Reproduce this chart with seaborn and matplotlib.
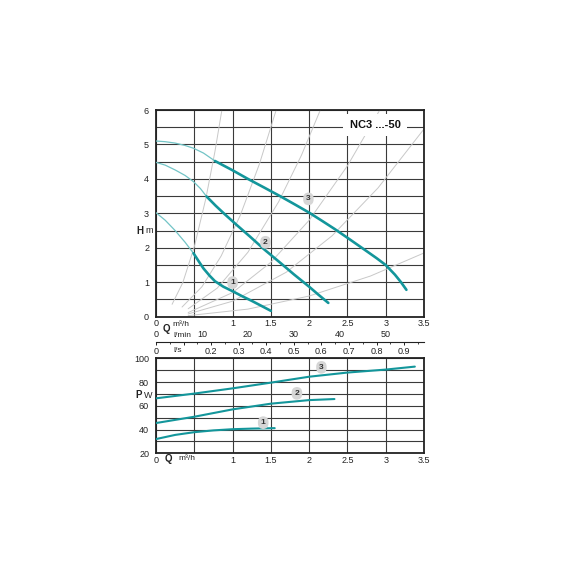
import matplotlib
matplotlib.use("Agg")
import matplotlib.pyplot as plt
from matplotlib.ticker import MultipleLocator
import seaborn as sns

# ---- pump head curves, Q in m3/h, H in m (thin = low flow part, thick = working range)
c1_thin_q = [0.0, 0.12, 0.25, 0.38, 0.49]
c1_thin_h = [3.02, 2.80, 2.50, 2.16, 1.84]
c1_q = [0.49, 0.56, 0.62, 0.70, 0.77, 0.88, 1.0, 1.12, 1.25, 1.38, 1.5]
c1_h = [1.84, 1.60, 1.40, 1.19, 1.03, 0.87, 0.74, 0.60, 0.46, 0.31, 0.17]

c2_thin_q = [0.0, 0.12, 0.25, 0.38, 0.49, 0.58, 0.66]
c2_thin_h = [4.48, 4.40, 4.26, 4.10, 3.92, 3.72, 3.49]
c2_q = [0.66, 0.78, 0.90, 1.05, 1.23, 1.42, 1.62, 1.80, 2.0, 2.12, 2.25]
c2_h = [3.49, 3.22, 2.97, 2.67, 2.32, 1.94, 1.57, 1.23, 0.87, 0.64, 0.40]

c3_thin_q = [0.0, 0.12, 0.25, 0.38, 0.49, 0.62, 0.77]
c3_thin_h = [5.10, 5.08, 5.04, 4.97, 4.89, 4.75, 4.52]
c3_q = [0.77, 1.0, 1.2, 1.42, 1.62, 1.82, 2.0, 2.17, 2.33, 2.52, 2.72, 2.88, 3.0, 3.12, 3.2, 3.27]
c3_h = [4.52, 4.25, 4.00, 3.74, 3.50, 3.25, 3.02, 2.78, 2.55, 2.26, 1.95, 1.70, 1.50, 1.22, 1.00, 0.78]

# ---- grey system curves (Q, H)
sys_q = [
    [0.21, 0.35, 0.50, 0.65, 0.77, 0.87],
    [0.34, 0.60, 0.85, 1.10, 1.35, 1.60],
    [0.42, 0.80, 1.20, 1.60, 1.90, 2.20],
    [0.42, 1.00, 1.50, 2.00, 2.50, 3.00],
    [0.42, 1.00, 1.70, 2.30, 2.90, 3.50],
    [0.42, 1.20, 2.00, 2.80, 3.50],
]
sys_h = [
    [0.36, 0.99, 2.03, 3.42, 4.80, 6.13],
    [0.28, 0.87, 1.76, 2.94, 4.43, 6.22],
    [0.23, 0.83, 1.87, 3.33, 4.69, 6.29],
    [0.12, 0.70, 1.58, 2.80, 4.38, 6.30],
    [0.08, 0.45, 1.29, 2.35, 3.74, 5.45],
    [0.03, 0.22, 0.60, 1.18, 1.85],
]

# ---- power curves, P in W
p1_q = [0.0, 0.25, 0.5, 0.75, 1.0, 1.25, 1.55]
p1_p = [32.0, 35.5, 37.8, 39.3, 40.3, 40.8, 41.2]
p2_q = [0.0, 0.5, 1.0, 1.5, 2.0, 2.33]
p2_p = [45.5, 50.8, 57.0, 61.8, 64.8, 65.7]
p3_q = [0.0, 0.5, 1.0, 1.5, 2.0, 2.5, 3.0, 3.38]
p3_p = [66.3, 70.3, 74.7, 79.5, 84.5, 88.0, 90.5, 93.0]

# curve number tags (Q, value)
h_tags = {"1": (1.0, 0.99), "2": (1.43, 2.16), "3": (1.99, 3.42)}
p_tags = {"1": (1.40, 45.8), "2": (1.84, 70.5), "3": (2.16, 92.4)}

q_ticks = [0, 0.5, 1, 1.5, 2, 2.5, 3, 3.5]
q_labels = ["0", "", "1", "1.5", "2", "2.5", "3", "3.5"]
lmin_ticks = [0, 10, 20, 30, 40, 50]
ls_ticks = [0, 0.1, 0.2, 0.3, 0.4, 0.5, 0.6, 0.7, 0.8, 0.9]
ls_labels = ["0", "", "0.2", "0.3", "0.4", "0.5", "0.6", "0.7", "0.8", "0.9"]

TEAL = "#13969b"
TEAL_LIGHT = "#72c4c6"
GRID = "#3a3a3a"
FRAME = "#222222"
SYS_GREY = "#c8c8c8"
TXT = "#222222"

sns.set_style("white")
plt.rcParams["font.family"] = ["Liberation Sans", "DejaVu Sans"]

fig = plt.figure(figsize=(5.7, 5.7), dpi=100)
ax_h = fig.add_axes([0.2737, 0.4444, 0.4702, 0.3626])
ax_p = fig.add_axes([0.2737, 0.2047, 0.4702, 0.1667])
ax_r = fig.add_axes([0.2737, 0.4005, 0.4702, 0.02])


def style_grid(ax):
    ax.set_axisbelow(True)
    ax.grid(True, color=GRID, linewidth=0.8)
    for s in ax.spines.values():
        s.set_visible(True)
        s.set_color(FRAME)
        s.set_linewidth(1.3)
    ax.tick_params(length=0, labelsize=6.5, colors=TXT)
    ax.set_xlabel("")
    ax.set_ylabel("")


def tag(ax, text, x, y):
    ax.text(x, y, text, ha="center", va="center", fontsize=6, fontweight="bold",
            color="#333333", zorder=6,
            bbox=dict(boxstyle="round,pad=0.35,rounding_size=0.7", fc="#d6d6d6", ec="none"))


# ---------------- head chart
for qs, hs in zip(sys_q, sys_h):
    sns.lineplot(x=qs, y=hs, ax=ax_h, color=SYS_GREY, linewidth=0.7, sort=False,
                 estimator=None, zorder=2)

for tq, th, q, h in [(c1_thin_q, c1_thin_h, c1_q, c1_h),
                     (c2_thin_q, c2_thin_h, c2_q, c2_h),
                     (c3_thin_q, c3_thin_h, c3_q, c3_h)]:
    sns.lineplot(x=tq, y=th, ax=ax_h, color=TEAL_LIGHT, linewidth=0.9, sort=False,
                 estimator=None, zorder=3)
    sns.lineplot(x=q, y=h, ax=ax_h, color=TEAL, linewidth=1.9, sort=False,
                 estimator=None, zorder=4)

for k, (x, y) in h_tags.items():
    tag(ax_h, k, x, y)

ax_h.set_xlim(0, 3.5)
ax_h.set_ylim(0, 6)
ax_h.set_xticks(q_ticks)
ax_h.set_xticklabels(q_labels)
ax_h.set_yticks([i * 0.5 for i in range(13)])
ax_h.set_yticklabels([str(i // 2) if i % 2 == 0 else "" for i in range(13)])
style_grid(ax_h)
ax_h.tick_params(axis="x", pad=2)
ax_h.tick_params(axis="y", pad=5)

ax_h.text(2.86, 5.57, "NC3 ...-50", ha="center", va="center", fontsize=8,
          fontweight="bold", color="#111111", zorder=10,
          bbox=dict(boxstyle="square,pad=0.55", fc="white", ec="none"))

ty = ax_h.get_yaxis_transform()
ax_h.text(-0.06, 2.5, "H", transform=ty, ha="center", va="center",
          fontsize=7, fontweight="bold", color=TXT)
ax_h.text(-0.025, 2.5, "m", transform=ty, ha="center", va="center",
          fontsize=6.5, color=TXT)
tx = ax_h.get_xaxis_transform()
ax_h.text(0.13, -0.058, "Q", transform=tx, ha="center", va="center",
          fontsize=7, fontweight="bold", color=TXT)
ax_h.text(0.22, -0.038, "m³/h", transform=tx, ha="left", va="center",
          fontsize=6, color=TXT)

# ---------------- flow ruler (l/min above, l/s below)
ax_r.set_xlim(0, 3.5 * 1000 / 60)
ax_r.set_ylim(0, 1)
ax_r.set_yticks([])
for side in ["top", "left", "right"]:
    ax_r.spines[side].set_visible(False)
ax_r.spines["bottom"].set_color(FRAME)
ax_r.spines["bottom"].set_linewidth(0.8)
ax_r.patch.set_alpha(0)
ax_r.set_xticks(lmin_ticks)
ax_r.xaxis.set_minor_locator(MultipleLocator(2))
ax_r.tick_params(axis="x", which="major", direction="in", length=3.5, width=0.7,
                 color=FRAME, labelsize=6.5, labelcolor=TXT, pad=-8.5)
ax_r.tick_params(axis="x", which="minor", direction="in", length=2, width=0.6, color=FRAME)

sec = ax_r.secondary_xaxis("bottom", functions=(lambda v: v / 60.0, lambda v: v * 60.0))
sec.set_xticks(ls_ticks)
sec.set_xticklabels(ls_labels)
sec.xaxis.set_minor_locator(MultipleLocator(0.05))
sec.spines["bottom"].set_visible(False)
sec.tick_params(axis="x", which="major", direction="out", length=2.5, width=0.7,
                color=FRAME, labelsize=6.5, labelcolor=TXT, pad=1.5)
sec.tick_params(axis="x", which="minor", direction="out", length=1.5, width=0.6, color=FRAME)

rx = ax_r.get_xaxis_transform()
ax_r.text(3.7, 0.55, "l/min", transform=rx, ha="left", va="center", fontsize=6, color=TXT)
ax_r.text(3.7, -0.75, "l/s", transform=rx, ha="left", va="center", fontsize=6, color=TXT)

# ---------------- power chart
for q, p in [(p1_q, p1_p), (p2_q, p2_p), (p3_q, p3_p)]:
    sns.lineplot(x=q, y=p, ax=ax_p, color=TEAL, linewidth=1.5, sort=False,
                 estimator=None, zorder=4)
for k, (x, y) in p_tags.items():
    tag(ax_p, k, x, y)

ax_p.set_xlim(0, 3.5)
ax_p.set_ylim(20, 100)
ax_p.set_xticks(q_ticks)
ax_p.set_xticklabels(q_labels)
ax_p.set_yticks(list(range(20, 101, 10)))
ax_p.set_yticklabels([str(v) if v % 20 == 0 else "" for v in range(20, 101, 10)])
style_grid(ax_p)
ax_p.tick_params(axis="x", pad=2)
ax_p.tick_params(axis="y", pad=5)

ty = ax_p.get_yaxis_transform()
ax_p.text(-0.063, 69, "P", transform=ty, ha="center", va="center",
          fontsize=7, fontweight="bold", color=TXT)
ax_p.text(-0.029, 69, "W", transform=ty, ha="center", va="center",
          fontsize=6.5, color=TXT)
tx = ax_p.get_xaxis_transform()
ax_p.text(0.16, -0.058, "Q", transform=tx, ha="center", va="center",
          fontsize=7, fontweight="bold", color=TXT)
ax_p.text(0.29, -0.058, "m³/h", transform=tx, ha="left", va="center",
          fontsize=6, color=TXT)

fig.savefig("out.png", dpi=100, facecolor="white")
